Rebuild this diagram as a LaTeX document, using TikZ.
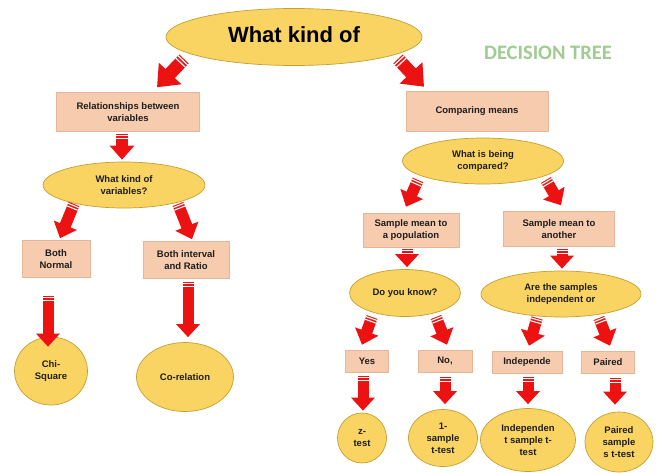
\documentclass[tikz,border=0pt]{standalone}
\usepackage{fontspec}
\setmainfont{Liberation Sans}
\newfontfamily\dtfont{Carlito}
\usetikzlibrary{shapes.geometric,arrows.meta,decorations.markings}
\definecolor{ellF}{RGB}{250,212,98}
\definecolor{ellB}{RGB}{196,160,50}
\definecolor{boxF}{RGB}{247,203,174}
\definecolor{boxB}{RGB}{228,182,156}
\definecolor{arrR}{RGB}{236,18,18}
\definecolor{dtG}{RGB}{160,204,146}
\definecolor{txt}{RGB}{30,30,30}
\tikzset{
 lbl/.style={font=\bfseries\fontsize{9.5}{12}\selectfont, align=center, text=txt},
 ell/.style={ellipse, draw=ellB, fill=ellF, line width=0.7pt, inner sep=0pt, lbl},
 box/.style={rectangle, draw=boxB, fill=boxF, line width=0.5pt, inner sep=1pt, lbl},
 smallstripes/.style={postaction={decorate}, decoration={markings,
   mark=at position 1.6pt with {\draw[white,line width=1.1pt,-] (0,-5.7pt) -- (0,5.7pt);},
   mark=at position 4.4pt with {\draw[white,line width=1.1pt,-] (0,-5.7pt) -- (0,5.7pt);}}},
 bigstripes/.style={postaction={decorate}, decoration={markings,
   mark=at position 1.8pt with {\draw[white,line width=1.2pt,-] (0,-6.7pt) -- (0,6.7pt);},
   mark=at position 5pt with {\draw[white,line width=1.2pt,-] (0,-6.7pt) -- (0,6.7pt);}}},
 barrow/.style={draw=arrR, line width=11.5pt, -{Triangle[width=24pt,length=14pt]}, smallstripes},
 varrow/.style={draw=arrR, line width=11pt, -{Triangle[width=23pt,length=13pt]}, smallstripes},
 bigarrow/.style={draw=arrR, line width=13pt, -{Triangle[width=30pt,length=19pt]}, bigstripes}
}
\begin{document}
\begin{tikzpicture}[x=1pt,y=-1pt]
\fill[white] (0,0) rectangle (658,472);
\useasboundingbox (0,0) rectangle (658,472);

% nodes
\node[ell, minimum width=256pt, minimum height=57pt] (top) at (294,37)
  {\raisebox{4pt}{\color{black}\fontsize{22}{24}\selectfont What kind of}};
\node[font=\dtfont\bfseries\fontsize{20.5}{22}\selectfont, text=dtG] (dt) at (548,53) {DECISION TREE};

\node[box, minimum width=143pt, minimum height=39pt] (rel) at (128,112) {Relationships between\\variables};
\node[box, minimum width=142pt, minimum height=40pt] (comp) at (477,111) {Comparing means};

\node[ell, minimum width=162pt, minimum height=46pt] (kv) at (124,185) {What kind of\\variables?};
\node[ell, minimum width=161pt, minimum height=46pt] (wc) at (483,161) {\raisebox{2pt}{\begin{tabular}{@{}c@{}}What is being\\compared?\end{tabular}}};

\node[box, minimum width=68pt, minimum height=37pt] (bn) at (56,259) {Both\\Normal};
\node[box, minimum width=86pt, minimum height=37pt] (bi) at (186,260) {Both interval\\and Ratio};

\node[ell, minimum width=73pt, minimum height=68pt] (chi) at (51,371) {Chi-\\Square};
\node[ell, minimum width=97pt, minimum height=69pt] (cor) at (185,377) {Co-relation};

\node[box, minimum width=96pt, minimum height=34pt] (smp) at (411,230) {Sample mean to\\a population};
\node[box, minimum width=111pt, minimum height=35pt] (sma) at (559,229) {Sample mean to\\another};

\node[ell, minimum width=111pt, minimum height=47pt] (dyk) at (405,293) {Do you know?};
\node[ell, minimum width=160pt, minimum height=46pt] (ats) at (561,294) {\raisebox{3pt}{\begin{tabular}{@{}c@{}}Are the samples\\independent or\end{tabular}}};

\node[box, minimum width=43pt, minimum height=22pt] (yes) at (367,361) {Yes};
\node[box, minimum width=54pt, minimum height=22pt] (no) at (445,361) {No,};
\node[box, minimum width=70pt, minimum height=22pt] (ind) at (527,362) {Independe};
\node[box, minimum width=53pt, minimum height=22pt] (pair) at (608,362) {Paired};

\node[ell, minimum width=49pt, minimum height=50pt] (z) at (362,438) {z-\\test};
\node[ell, minimum width=69pt, minimum height=57pt] (one) at (443,438) {1-\\sample\\t-test};
\node[ell, minimum width=95pt, minimum height=63pt] (indt) at (528,440) {Independen\\t sample t-\\test};
\node[ell, minimum width=68pt, minimum height=60pt] (pt) at (619,442) {Paired\\sample\\s t-test};

% arrows
\draw[bigarrow] ([shift={(-110,22)}]top.center) -- ([shift={(29,-5)}]rel.north);
\draw[bigarrow] ([shift={(104,22)}]top.center) -- ([shift={(-53,-4)}]comp.north);

\draw[barrow] ([shift={(-6,2)}]rel.south) -- ([shift={(-2,-2)}]kv.north);
\draw[barrow] ([shift={(-50,19)}]kv.center) -- ([shift={(4,-2)}]bn.north);
\draw[barrow] ([shift={(54,19)}]kv.center) -- ([shift={(6,-2)}]bi.north);
\draw[varrow] ([shift={(-8,18)}]bn.south) -- ([shift={(-3,10)}]chi.north);
\draw[varrow] ([shift={(2,3)}]bi.south) -- ([shift={(3,-5)}]cor.north);

\draw[barrow] ([shift={(-65,19)}]wc.center) -- ([shift={(-5,-6)}]smp.north);
\draw[barrow] ([shift={(63,19)}]wc.center) -- ([shift={(2,-6)}]sma.north);
\draw[varrow] ([shift={(-4,2)}]smp.south) -- ([shift={(2,-2)}]dyk.north);
\draw[varrow] ([shift={(3,2)}]sma.south) -- ([shift={(1,-2)}]ats.north);

\draw[barrow] ([shift={(-33,24)}]dyk.center) -- ([shift={(-5,-5)}]yes.north);
\draw[barrow] ([shift={(31,24)}]dyk.center) -- ([shift={(2,-5)}]no.north);
\draw[barrow] ([shift={(-24,24)}]ats.center) -- ([shift={(2,-5)}]ind.north);
\draw[barrow] ([shift={(38,24)}]ats.center) -- ([shift={(2,-5)}]pair.north);

\draw[varrow] ([shift={(-4,4)}]yes.south) -- ([shift={(1,-2)}]z.north);
\draw[varrow] ([shift={(0,5)}]no.south) -- ([shift={(2,-5)}]one.north);
\draw[varrow] ([shift={(1,4)}]ind.south) -- ([shift={(0,-4)}]indt.north);
\draw[varrow] ([shift={(7,5)}]pair.south) -- ([shift={(-4,-7)}]pt.north);
\end{tikzpicture}
\end{document}
